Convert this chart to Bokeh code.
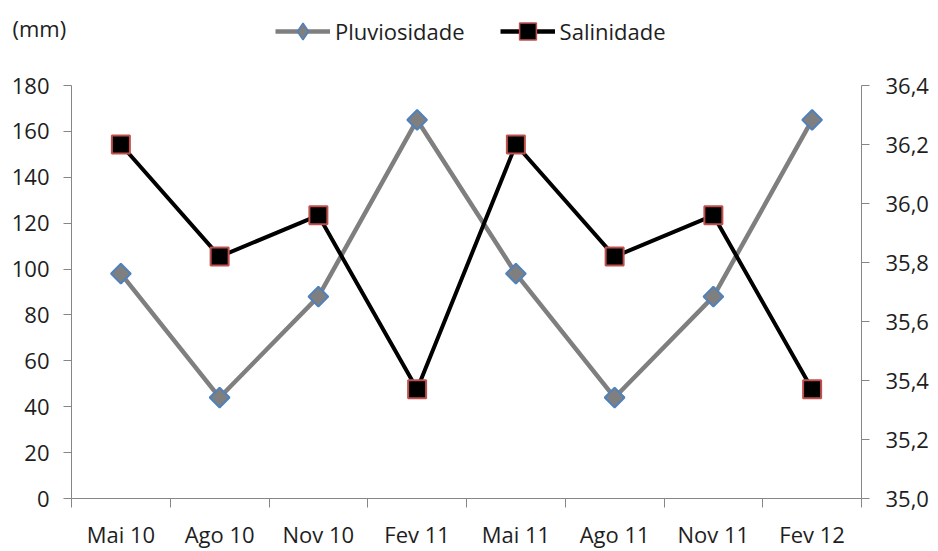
import numpy as np
from bokeh.plotting import figure
from bokeh.layouts import column
from bokeh.models import (Range1d, LinearAxis, FixedTicker, CustomJSTickFormatter,
                          Legend, LegendItem, Label, ColumnDataSource)
from bokeh.embed import file_html
from bokeh.resources import INLINE

# Sampling periods and measured series
periodos = ["Mai 10", "Ago 10", "Nov 10", "Fev 11", "Mai 11", "Ago 11", "Nov 11", "Fev 12"]
pluviosidade = [98, 44, 88, 165, 98, 44, 88, 165]          # mm
salinidade = [36.20, 35.82, 35.96, 35.37, 36.20, 35.82, 35.96, 35.37]
chuva_ticks = [0, 20, 40, 60, 80, 100, 120, 140, 160, 180]
sal_ticks = [35.0, 35.2, 35.4, 35.6, 35.8, 36.0, 36.2, 36.4]

FONT = "Open Sans"
FS = "22px"
TXT = "#1e1e1e"
AXC = "#868686"
GREY = "#7f7f7f"
BLUE = "#4f81bd"
RED = "#c0504d"

W = 938
HEAD = 70

# ---- header strip: unit label and legend ----
head = figure(width=W, height=HEAD, output_backend="svg", toolbar_location=None,
              x_range=Range1d(0, 1), y_range=Range1d(0, 1),
              x_axis_type=None, y_axis_type=None, min_border=0)
head.frame_align = False
head.outline_line_color = None
head.xgrid.visible = False
head.ygrid.visible = False

# swatch renderers only feed the legend; their point lies outside the visible range
swatch = ColumnDataSource(dict(x=[-5, -4], y=[-5, -4]))
hl1 = head.line("x", "y", source=swatch, line_color=GREY, line_width=4.5)
hm1 = head.scatter("x", "y", source=swatch, marker="diamond", size=16,
                   fill_color=GREY, line_color=BLUE, line_width=1.5)
hl2 = head.line("x", "y", source=swatch, line_color="black", line_width=4.5)
hm2 = head.scatter("x", "y", source=swatch, marker="square", size=18,
                   fill_color="black", line_color=RED, line_width=1.5)

legend = Legend(items=[LegendItem(label="Pluviosidade", renderers=[hl1, hm1]),
                       LegendItem(label="Salinidade", renderers=[hl2, hm2])],
                orientation="horizontal", location=(275, 18),
                glyph_width=55, glyph_height=42, spacing=35, padding=0, margin=0,
                label_standoff=5, label_text_font=FONT, label_text_font_size=FS,
                label_text_color=TXT, border_line_color=None, background_fill_alpha=0)
head.add_layout(legend, "center")

head.add_layout(Label(x=12, y=HEAD - 27, x_units="screen", y_units="screen", text="(mm)",
                      text_font=FONT, text_font_size=FS, text_color=TXT,
                      text_baseline="middle"))

# ---- main chart ----
# each period sits in the middle of its slot; slot borders carry the ticks
pos = [i + 0.5 for i in range(len(periodos))]
src = ColumnDataSource(dict(x=pos, chuva=pluviosidade, sal=salinidade))

p = figure(width=W, height=551 - HEAD, output_backend="svg", toolbar_location=None,
           x_range=Range1d(0, len(periodos)), y_range=Range1d(chuva_ticks[0], chuva_ticks[-1]),
           min_border_left=71, min_border_right=77, min_border_top=85 - HEAD, min_border_bottom=51,
           x_axis_type=None, y_axis_type=None)
p.frame_align = False
p.outline_line_color = None
p.xgrid.visible = False
p.ygrid.visible = False

p.extra_y_ranges = {"sal": Range1d(sal_ticks[0], sal_ticks[-1])}


def style_axis(ax, standoff):
    ax.axis_line_color = AXC
    ax.axis_line_width = 1
    ax.major_tick_line_color = AXC
    ax.major_tick_in = 0
    ax.major_tick_out = 8
    ax.minor_tick_line_color = None
    ax.major_label_text_font = FONT
    ax.major_label_text_font_size = FS
    ax.major_label_text_color = TXT
    ax.major_label_standoff = standoff


# left axis: rainfall
ax_l = LinearAxis(ticker=FixedTicker(ticks=chuva_ticks))
style_axis(ax_l, 14)
p.add_layout(ax_l, "left")

# right axis: salinity, decimal comma
ax_r = LinearAxis(y_range_name="sal", ticker=FixedTicker(ticks=sal_ticks),
                  formatter=CustomJSTickFormatter(code="return tick.toFixed(1).replace('.', ',')"))
style_axis(ax_r, 16)
p.add_layout(ax_r, "right")

# bottom axis: labels centred in the slots, tick marks on slot borders
ax_b = LinearAxis(ticker=FixedTicker(ticks=pos, minor_ticks=list(range(len(periodos) + 1))),
                  formatter=CustomJSTickFormatter(args=dict(labels=periodos),
                                                  code="return labels[Math.floor(tick)]"))
style_axis(ax_b, 11)
ax_b.major_tick_line_color = None
ax_b.major_tick_out = 9
ax_b.minor_tick_line_color = AXC
ax_b.minor_tick_in = 0
ax_b.minor_tick_out = 9
p.add_layout(ax_b, "below")

# rainfall series
p.line("x", "chuva", source=src, line_color=GREY, line_width=4.5)
p.scatter("x", "chuva", source=src, marker="square", angle=np.pi / 4, size=14,
          fill_color=GREY, line_color=BLUE, line_width=2)

# salinity series
p.line("x", "sal", source=src, y_range_name="sal", line_color="black", line_width=4)
p.scatter("x", "sal", source=src, y_range_name="sal", marker="square", size=18,
          fill_color="black", line_color=RED, line_width=2)

layout = column(head, p, spacing=0)
open("out.html", "w").write(file_html(layout, INLINE))
